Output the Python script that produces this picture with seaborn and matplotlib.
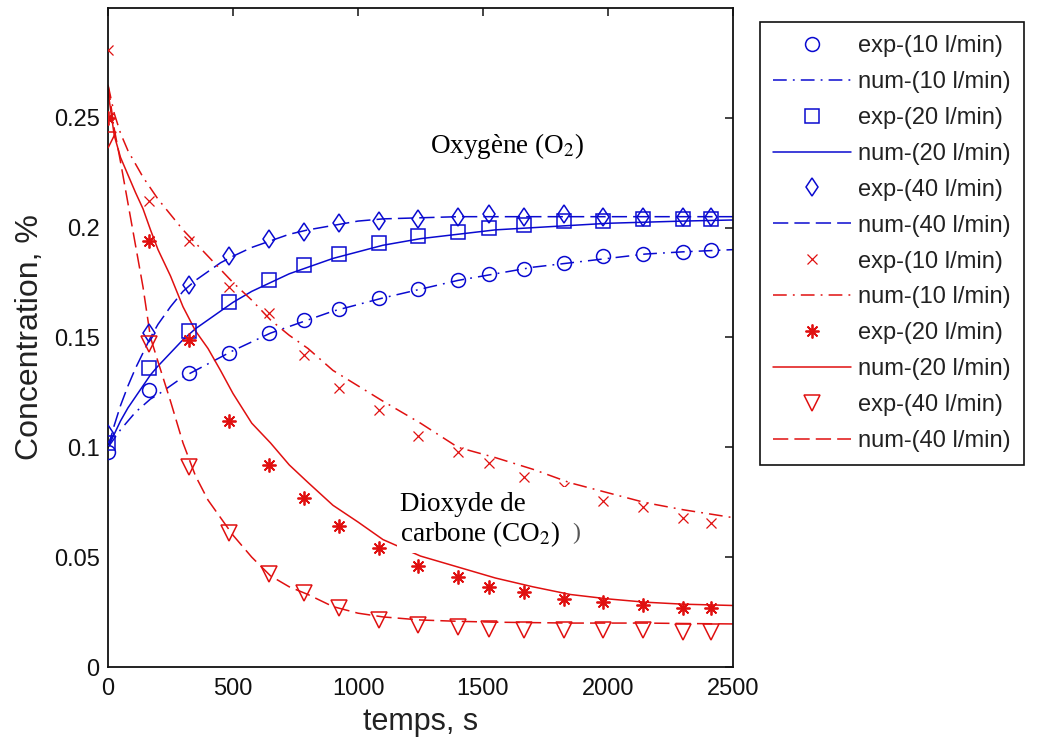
import numpy as np
import pandas as pd
import matplotlib
matplotlib.use("Agg")
import matplotlib.pyplot as plt
from matplotlib.ticker import FuncFormatter
from matplotlib.patches import Rectangle
import seaborn as sns

# ---------------- data ----------------
t_exp = [0, 165, 322, 482, 642, 784, 922, 1082, 1240, 1400, 1522, 1662, 1822, 1980, 2140, 2300, 2412]

o2_exp10 = [0.098, 0.126, 0.134, 0.143, 0.152, 0.158, 0.163, 0.168, 0.172, 0.176, 0.179, 0.181, 0.184, 0.187, 0.188, 0.189, 0.190]
o2_exp20 = [0.102, 0.136, 0.153, 0.166, 0.176, 0.183, 0.188, 0.193, 0.196, 0.198, 0.200, 0.201, 0.203, 0.203, 0.204, 0.204, 0.204]
o2_exp40 = [0.106, 0.152, 0.174, 0.187, 0.195, 0.198, 0.202, 0.203, 0.204, 0.205, 0.206, 0.205, 0.206, 0.205, 0.205, 0.205, 0.205]

co2_exp10 = [0.281, 0.212, 0.194, 0.173, 0.161, 0.142, 0.127, 0.117, 0.105, 0.098, 0.093, 0.0865, 0.082, 0.0755, 0.073, 0.068, 0.0655]
co2_exp20 = [0.250, 0.194, 0.149, 0.112, 0.092, 0.077, 0.064, 0.054, 0.046, 0.041, 0.0365, 0.034, 0.031, 0.0295, 0.028, 0.027, 0.027]
co2_exp40 = [0.240, 0.147, 0.091, 0.061, 0.0425, 0.0335, 0.027, 0.0215, 0.019, 0.018, 0.0175, 0.017, 0.017, 0.017, 0.017, 0.016, 0.016]

t_num = [0, 25, 50, 80, 110, 140, 170, 200, 250, 300, 350, 400, 450, 500, 575, 650, 725, 800,
         900, 1000, 1100, 1250, 1400, 1550, 1700, 1850, 2000, 2150, 2300, 2500]

o2_num10 = [0.100, 0.104, 0.108, 0.112, 0.116, 0.119, 0.122, 0.124, 0.128, 0.132, 0.135, 0.138, 0.141, 0.144, 0.148, 0.152, 0.155, 0.158,
            0.162, 0.165, 0.168, 0.172, 0.176, 0.179, 0.182, 0.184, 0.186, 0.188, 0.189, 0.190]
o2_num20 = [0.100, 0.106, 0.112, 0.118, 0.123, 0.128, 0.133, 0.137, 0.143, 0.149, 0.154, 0.158, 0.162, 0.166, 0.171, 0.175, 0.179, 0.182,
            0.186, 0.189, 0.192, 0.195, 0.197, 0.199, 0.200, 0.201, 0.202, 0.2025, 0.203, 0.2035]
o2_num40 = [0.100, 0.110, 0.119, 0.128, 0.136, 0.143, 0.150, 0.156, 0.164, 0.171, 0.176, 0.180, 0.184, 0.187, 0.191, 0.194, 0.197, 0.199,
            0.201, 0.203, 0.204, 0.2045, 0.205, 0.205, 0.205, 0.205, 0.205, 0.205, 0.205, 0.205]

co2_num10 = [0.265, 0.252, 0.243, 0.235, 0.229, 0.223, 0.218, 0.213, 0.206, 0.199, 0.193, 0.187, 0.181, 0.175, 0.167, 0.158, 0.151, 0.145,
             0.135, 0.128, 0.121, 0.111, 0.100, 0.0953, 0.090, 0.0838, 0.0793, 0.0748, 0.0716, 0.068]
co2_num20 = [0.262, 0.242, 0.232, 0.224, 0.216, 0.2086, 0.199, 0.190, 0.178, 0.164, 0.153, 0.145, 0.135, 0.1245, 0.111, 0.102, 0.092, 0.084,
             0.0736, 0.066, 0.058, 0.0505, 0.0455, 0.0405, 0.0365, 0.033, 0.031, 0.0295, 0.0286, 0.028]
co2_num40 = [0.265, 0.245, 0.230, 0.211, 0.192, 0.173, 0.150, 0.139, 0.121, 0.102, 0.087, 0.076, 0.068, 0.060, 0.050, 0.0415, 0.0365, 0.033,
             0.0275, 0.0245, 0.0228, 0.0214, 0.0208, 0.0204, 0.0202, 0.020, 0.020, 0.020, 0.0198, 0.0196]

labels_exp = ["exp-(10 l/min)", "exp-(20 l/min)", "exp-(40 l/min)"]
labels_num = ["num-(10 l/min)", "num-(20 l/min)", "num-(40 l/min)"]

x_ticks = [0, 500, 1000, 1500, 2000, 2500]
y_ticks = [0, 0.05, 0.1, 0.15, 0.2, 0.25]

# ---------------- style ----------------
sns.set_theme(style="white")
plt.rcParams["font.family"] = ["Liberation Sans", "DejaVu Sans"]
plt.rcParams["mathtext.fontset"] = "stix"

BLUE = "#0a0ad0"
RED = "#e01010"

fig = plt.figure(figsize=(10.39, 7.42), dpi=100)
ax = fig.add_axes([108 / 1039, 1 - 667 / 742, (733 - 108) / 1039, (667 - 8) / 742])

dash_dot = (0, (9, 4, 1.2, 4))
dashed = (0, (10, 4))
solid = "-"

def exp_pts(y, color, marker, ms, label, mew=1.1):
    sns.lineplot(x=t_exp, y=y, ax=ax, color=color, marker=marker, linestyle="none",
                 markersize=ms, markerfacecolor="none", markeredgecolor=color,
                 markeredgewidth=mew, label=label, legend=False, zorder=3)

def num_line(y, color, ls, label):
    sns.lineplot(x=t_num, y=y, ax=ax, color=color, linestyle=ls, linewidth=1.1,
                 label=label, legend=False, zorder=2)

exp_pts(o2_exp10, BLUE, "o", 10, labels_exp[0])
num_line(o2_num10, BLUE, dash_dot, labels_num[0])
exp_pts(o2_exp20, BLUE, "s", 10.5, labels_exp[1])
num_line(o2_num20, BLUE, solid, labels_num[1])
exp_pts(o2_exp40, BLUE, "d", 9.5, labels_exp[2])
num_line(o2_num40, BLUE, dashed, labels_num[2])

exp_pts(co2_exp10, RED, "x", 7, labels_exp[0], mew=0.9)
num_line(co2_num10, RED, dash_dot, labels_num[0])
exp_pts(co2_exp20, RED, (8, 2, 0), 10, labels_exp[1], mew=1.3)
num_line(co2_num20, RED, solid, labels_num[1])
exp_pts(co2_exp40, RED, "v", 11.5, labels_exp[2])
num_line(co2_num40, RED, dashed, labels_num[2])

ax.set_xlim(0, 2500)
ax.set_ylim(0, 0.3)
ax.set_xticks(x_ticks)
ax.set_yticks(y_ticks)
ax.yaxis.set_major_formatter(FuncFormatter(lambda v, p: "%g" % v))
ax.tick_params(direction="in", top=True, right=True, length=6, width=1.1,
               labelsize=17, colors="#111111")
ax.tick_params(axis="x", pad=8)
ax.tick_params(axis="y", pad=6)
for s in ax.spines.values():
    s.set_linewidth(1.3)
    s.set_color("#111111")

ax.set_xlabel("temps, s", fontsize=22, color="#222222", labelpad=5)
ax.set_ylabel("Concentration, %", fontsize=23, color="#222222", labelpad=6)

# annotations
ax.text(1288, 0.237, "Oxygène (O$_2$)", family=["Liberation Serif", "DejaVu Serif"],
        fontsize=19.5, color="black", va="center", ha="left", zorder=6)
ax.add_patch(Rectangle((1156, 0.0518), 724, 0.0300, facecolor="white", edgecolor="none", zorder=4))
ax.text(1166, 0.0665, "Dioxyde de\ncarbone (CO$_2$)", family=["Liberation Serif", "DejaVu Serif"],
        fontsize=19.5, color="black", va="center", ha="left", linespacing=1.1, zorder=6)
ax.text(1856, 0.061, ")", family=["Liberation Serif", "DejaVu Serif"], fontsize=17,
        color="#555555", va="center", ha="left", zorder=6)

handles, labels = ax.get_legend_handles_labels()
leg = fig.legend(handles, labels, loc="upper left",
                 bbox_to_anchor=(760 / 1039, 1 - 22 / 742), bbox_transform=fig.transFigure,
                 borderaxespad=0, fontsize=17, frameon=True, fancybox=False, shadow=False,
                 framealpha=1, edgecolor="#111111", handlelength=3.3, handletextpad=0.3,
                 labelspacing=0.59, borderpad=0.55, numpoints=1)
leg.get_frame().set_linewidth(1.2)
for txt in leg.get_texts():
    txt.set_color("#222222")

fig.savefig("out.png", dpi=100, facecolor="white")
